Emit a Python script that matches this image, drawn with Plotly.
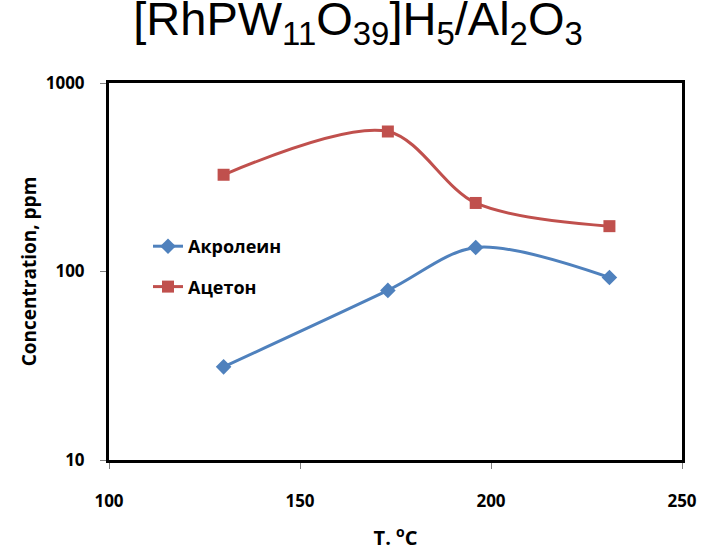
import plotly.graph_objects as go

temps = [130, 173, 196, 231]
acrolein = [31.2, 79.4, 134, 92.9]
acetone = [326, 553, 231, 174]
series_names = ["Акролеин", "Ацетон"]
x_ticks = [100, 150, 200, 250]
y_ticks = [10, 100, 1000]

BLUE = "#4F81BD"
RED = "#C0504D"

fig = go.Figure()
fig.add_trace(go.Scatter(
    x=temps, y=acrolein, name=series_names[0], mode="lines+markers",
    line=dict(color=BLUE, width=3, shape="spline", smoothing=0.9),
    marker=dict(symbol="diamond", size=12, color=BLUE),
    legendgroup="a"))
fig.add_trace(go.Scatter(
    x=temps, y=acetone, name=series_names[1], mode="lines+markers",
    line=dict(color=RED, width=3, shape="spline", smoothing=0.9),
    marker=dict(symbol="square", size=12, color=RED),
    legendgroup="b"))

tickfont = dict(family="Open Sans", size=17, color="black", weight="bold")

fig.update_layout(
    width=703, height=551,
    margin=dict(l=109, r=21, t=83, b=91, autoexpand=False),
    paper_bgcolor="white", plot_bgcolor="white",
    title=dict(
        text="[RhPW<sub>11</sub>O<sub>39</sub>]H<sub>5</sub>/Al<sub>2</sub>O<sub>3</sub>",
        font=dict(family="Liberation Sans", size=47, color="black"),
        x=358 / 703, xref="container", xanchor="center",
        y=1 - 2 / 551, yref="container", yanchor="top"),
    xaxis=dict(
        range=[100, 250], tickvals=x_ticks, ticktext=[str(v) for v in x_ticks],
        showgrid=False, zeroline=False, automargin=False,
        showline=True, linecolor="black", linewidth=3, mirror=True,
        ticks="outside", ticklen=6, tickcolor="#808080", tickwidth=1,
        tickfont=tickfont, ticklabelstandoff=18,
        title=dict(text="T. <sup>o</sup>C",
                   font=dict(family="Open Sans", size=20, color="black", weight="bold"),
                   standoff=20)),
    yaxis=dict(
        type="log", range=[1, 3], tickvals=y_ticks, ticktext=[str(v) for v in y_ticks],
        showgrid=False, zeroline=False, automargin=False,
        showline=True, linecolor="black", linewidth=3, mirror=True,
        ticks="outside", ticklen=6, tickcolor="#808080", tickwidth=1,
        tickfont=tickfont, ticklabelstandoff=12,
        title=dict(text="Concentration, ppm",
                   font=dict(family="Open Sans", size=19, color="black", weight="bold"),
                   standoff=5)),
    legend=dict(
        x=(148 - 109) / 573, y=(460 - 228) / 377, xanchor="left", yanchor="top",
        bgcolor="rgba(0,0,0,0)", font=dict(family="Open Sans", size=18, color="black", weight="bold"),
        traceorder="grouped", tracegroupgap=14, itemwidth=30),
    showlegend=True,
)

fig.write_html("out.html")
